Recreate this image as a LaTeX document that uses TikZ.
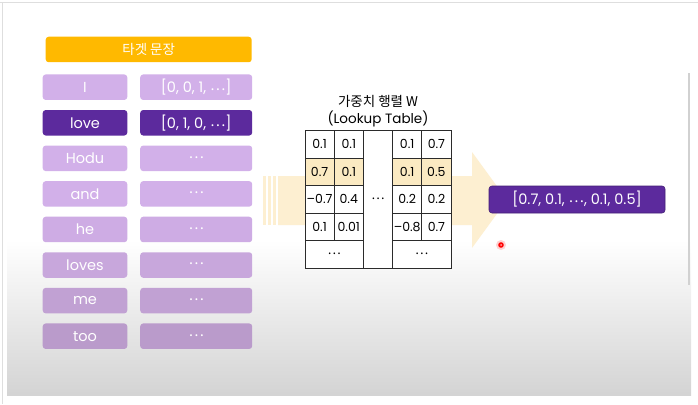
\documentclass[tikz,border=0pt]{standalone}
\usepackage{fontspec}
\setmainfont{Poppins}
\newfontfamily\kor{Noto Sans CJK KR}
\usetikzlibrary{positioning}
\newcommand{\mdots}{\raisebox{0.25ex}{\kor ⋯}}
\definecolor{hdrorange}{HTML}{FFB900}
\definecolor{lpa}{HTML}{D2B0E9}
\definecolor{lpb}{HTML}{CEACE4}
\definecolor{lpc}{HTML}{C8A7DC}
\definecolor{lpd}{HTML}{C1A1D3}
\definecolor{lpe}{HTML}{BA9BCB}
\definecolor{dpurple}{HTML}{5C2A9D}
\definecolor{arrowyel}{HTML}{FDEFD1}
\definecolor{rowyel}{HTML}{FBEAC2}
\definecolor{gridline}{HTML}{2B2B2B}
\tikzset{
  wordbox/.style = {rounded corners=3pt, minimum height=25.5pt, inner sep=0pt,
    text=white, font=\fontsize{14.5}{16}\selectfont},
  word_l/.style = {wordbox, minimum width=84.6pt},% word column
  word_v/.style = {wordbox, minimum width=112pt},% one-hot column
  cell/.style = {draw=gridline, line width=0.9pt, minimum width=29.2pt,
    minimum height=27.5pt, inner sep=0pt, font=\fontsize{12.5}{14}\selectfont},
  lbl/.style = {inner sep=0pt, align=center}
}
\begin{document}
\begin{tikzpicture}[x=1pt,y=-1pt]
\useasboundingbox (0,0) rectangle (698,404);
% slide background
\fill[white] (7,4) rectangle (691,240);
\shade[top color=white, bottom color=black!17] (7,240) rectangle (691,395);
\draw[black!13, line width=1pt] (0,3) -- (698,3);
\draw[black!13, line width=1pt] (2,3) -- (2,404);
\draw[black!18, line width=1.5pt] (689,73) -- (689,285);

% big arrow behind the table
\fill[arrowyel] (278,176) -- (472,176) -- (472,152) -- (507,200)
  -- (472,248) -- (472,225) -- (278,225) -- cycle;
\foreach \xa/\xb in {262.5/265.5, 268/270.5, 272.5/275.5}
  \fill[arrowyel] (\xa,176) rectangle (\xb,225);

% target sentence
\node[wordbox, fill=hdrorange, minimum width=206pt, font=\kor\fontsize{13.5}{15}\selectfont]
  (header) at (148.7,49.5) {타겟 문장};
\foreach \w/\v/\c [count=\i] in {I/{[0, 0, 1, \mdots]}/lpa,
    love/{[0, 1, 0, \mdots]}/dpurple, Hodu/\mdots/lpa, and/\mdots/lpa,
    he/\mdots/lpb, loves/\mdots/lpc, me/\mdots/lpd, too/\mdots/lpe}
{
  \node[word_l, fill=\c] (w\i) at (85,{87.2+35.57*(\i-1)}) {\w};
  \node[word_v, fill=\c] (v\i) at (196.2,{87.2+35.57*(\i-1)}) {\v};
}

% weight matrix W
\node[lbl, font=\kor\fontsize{13.5}{15}\selectfont] (wname) at (378,101.5) {가중치 행렬 W};
\node[lbl, font=\fontsize{13.5}{15}\selectfont] (lookup) at (378,118.5) {(Lookup Table)};
\foreach \a/\b/\c/\d/\f [count=\i] in {0.1/0.1/0.1/0.7/white,
    0.7/0.1/0.1/0.5/rowyel, --0.7/0.4/0.2/0.2/white, 0.1/0.01/--0.8/0.7/white}
{
  \node[cell, fill=\f] (c\i-1) at (319.6,{130.5+27.5*(\i-0.5)}) {\a};
  \node[cell, fill=\f] (c\i-2) at (348.8,{130.5+27.5*(\i-0.5)}) {\b};
  \node[cell, fill=\f] (c\i-4) at (407.2,{130.5+27.5*(\i-0.5)}) {\c};
  \node[cell, fill=\f] (c\i-5) at (436.4,{130.5+27.5*(\i-0.5)}) {\d};
}
\node[cell, fill=white, minimum height=137.5pt] (midcol) at (378,199.25) {\mdots};
\node[cell, fill=white, minimum width=58.4pt] (dots-l) at (334.2,254.25) {\mdots};
\node[cell, fill=white, minimum width=58.4pt] (dots-r) at (421.8,254.25) {\mdots};

% looked-up vector
\node[wordbox, fill=dpurple, draw=dpurple!75!black, line width=0.6pt,
  minimum width=176pt, minimum height=27pt] (embed) at (577,199.5)
  {[0.7, 0.1, \mdots, 0.1, 0.5]};

% pointer
\fill[red!18] (501,245) circle (5);
\fill[red] (501,245) circle (2.8);
\fill[red!35] (501,245) circle (1);
\end{tikzpicture}
\end{document}
